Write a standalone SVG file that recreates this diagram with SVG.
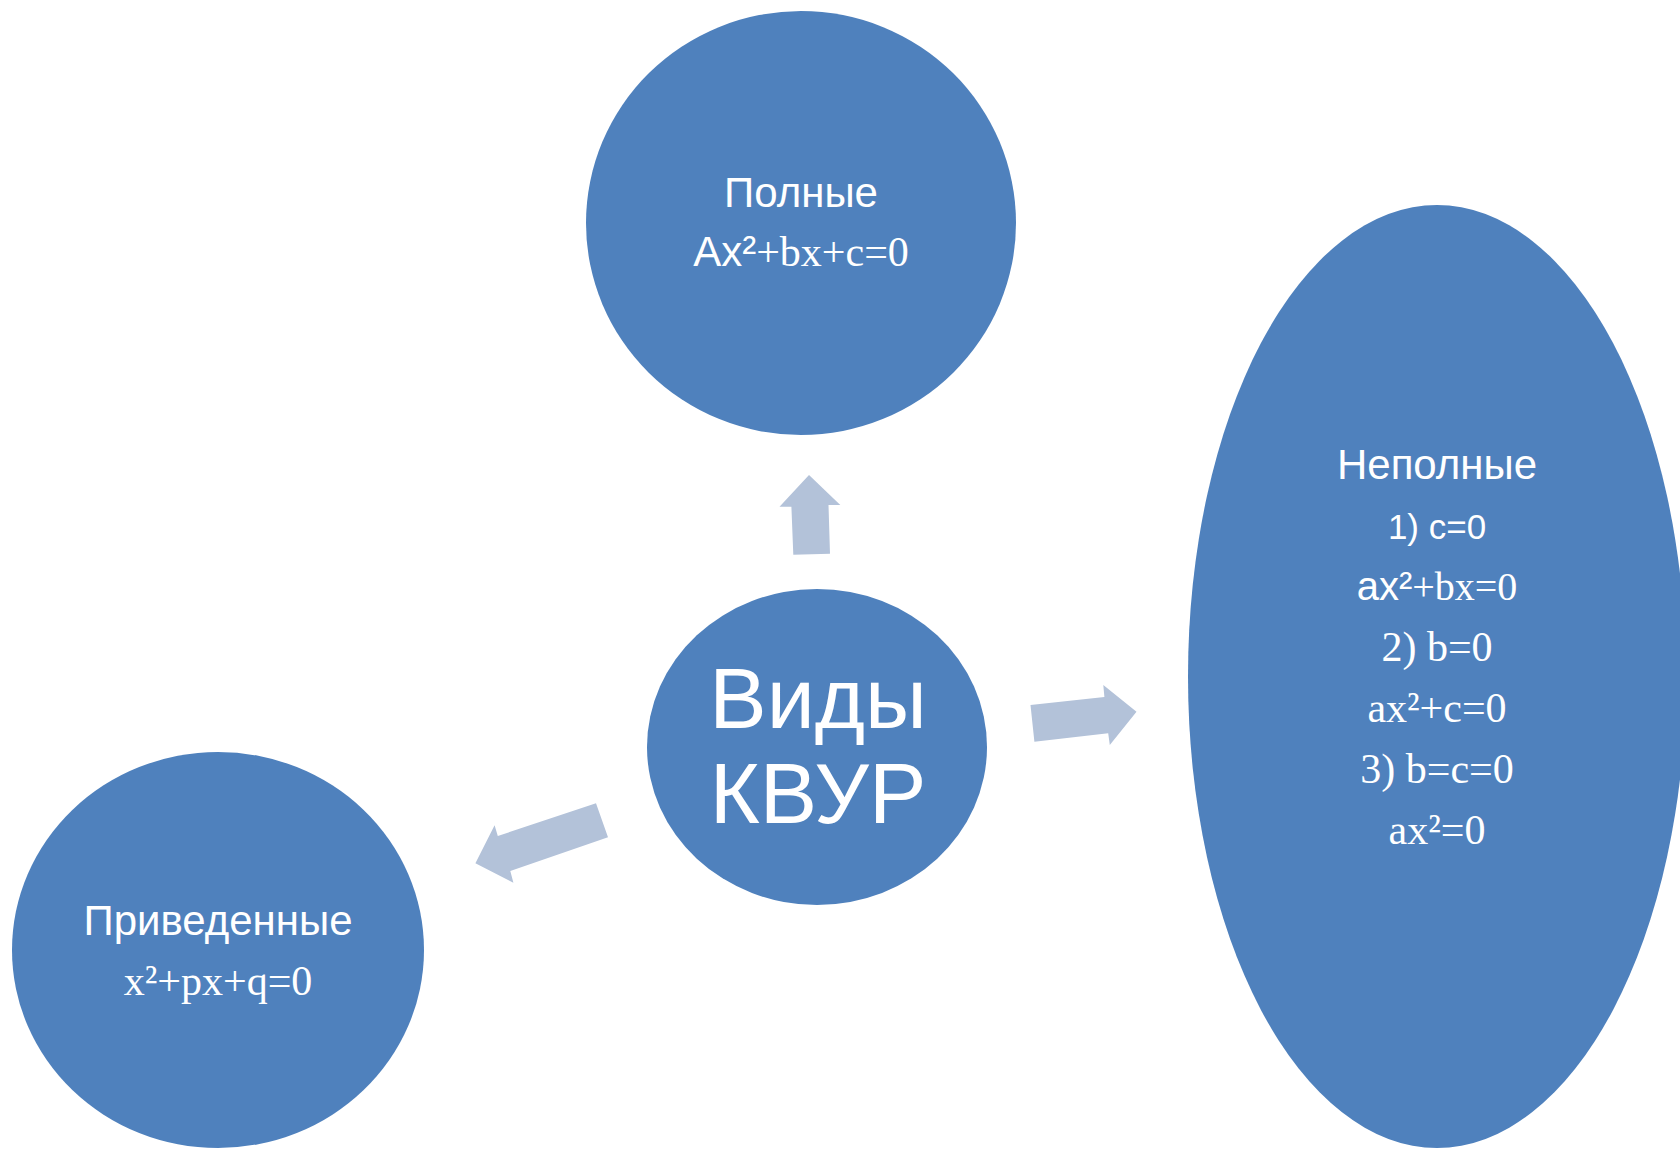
<svg xmlns="http://www.w3.org/2000/svg" width="1680" height="1150" viewBox="0 0 1680 1150">
<style>
.node{fill:#4F81BD;}
.arrow{fill:#B3C2D9;}
text{fill:#FFFFFF;text-anchor:middle;}
.s{font-family:"Liberation Sans",Arial,sans-serif;}
.r{font-family:"Liberation Serif","Times New Roman",serif;}
</style>
<rect width="1680" height="1150" fill="#FFFFFF"/>
<g id="connectors">
<polygon class="arrow" points="809,475 840.3,505 828.5,505 830,553.7 793.3,554.7 791.4,506.7 779.5,506.7"/>
<polygon class="arrow" points="1030.5,705 1104.4,697 1103.3,685 1136.5,711.7 1109.8,745 1108.2,733.3 1034.4,741.7"/>
<polygon class="arrow" points="596,803.3 608,837.3 510.3,871 513.4,882.7 475.4,863.3 494.6,825.3 497.8,836"/>
</g>
<g id="node-full">
<ellipse class="node" cx="801" cy="223" rx="215" ry="212"/>
<text class="s" x="801" y="207" font-size="42">Полные</text>
<text x="801" y="266" font-size="42"><tspan class="s">Ax²</tspan><tspan class="r">+bx+c=0</tspan></text>
</g>
<g id="node-center">
<ellipse class="node" cx="817" cy="747" rx="170" ry="158"/>
<text class="s" x="818" y="728" font-size="86">Виды</text>
<text class="s" x="818" y="823" font-size="86">КВУР</text>
</g>
<g id="node-incomplete">
<ellipse class="node" cx="1437" cy="676.5" rx="249" ry="471.5"/>
<text class="s" x="1437" y="479" font-size="42">Неполные</text>
<text class="s" x="1437" y="539" font-size="35">1) c=0</text>
<text x="1437" y="600" font-size="40"><tspan class="s">ax²</tspan><tspan class="r">+bx=0</tspan></text>
<text class="r" x="1437" y="661" font-size="42">2) b=0</text>
<text class="r" x="1437" y="722" font-size="42">ax²+c=0</text>
<text class="r" x="1437" y="783" font-size="42">3) b=c=0</text>
<text class="r" x="1437" y="844" font-size="42">ax²=0</text>
</g>
<g id="node-reduced">
<ellipse class="node" cx="218" cy="950" rx="206" ry="198"/>
<text class="s" x="218" y="935" font-size="42">Приведенные</text>
<text class="r" x="218" y="995" font-size="42">x²+px+q=0</text>
</g>
</svg>
